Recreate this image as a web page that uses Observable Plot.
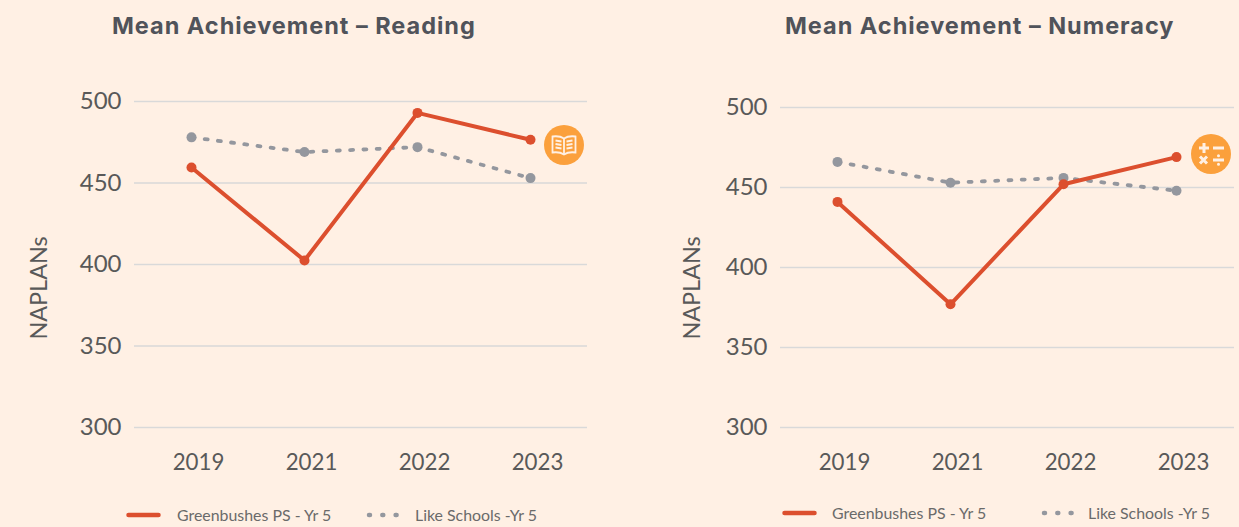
<!DOCTYPE html>
<html><head><meta charset="utf-8">
<script src="https://cdn.jsdelivr.net/npm/d3@7"></script>
<script src="https://cdn.jsdelivr.net/npm/@observablehq/plot@0.6"></script>
<style>
html,body{margin:0;padding:0;background:#FFF0E4;}
#page{position:relative;width:1239px;height:527px;overflow:hidden;background:#FFF0E4;}
.abs{position:absolute;white-space:nowrap;}
.title{font:700 23.5px Inter,"Open Sans",sans-serif;color:#50535A;letter-spacing:.98px;}
.ylab{font:23.4px Lato,sans-serif;color:#595959;transform:translate(-50%,-50%) rotate(-90deg);}
.leg{font:15.9px Lato,sans-serif;color:#6a6a6a;}
.badge{width:40px;height:40px;border-radius:50%;background:#FBA03C;transform:translate(-50%,-50%);}
</style></head><body>
<div id="page"></div>
<script>
const years = ["2019","2021","2022","2023"];
const ticks = [300,350,400,450,500];
const readingSchool = [459.5,402.5,493,476.5];
const readingLike = [478,469,472,453];
const numeracySchool = [441,377,452,469];
const numeracyLike = [466,453,456,448];
const seriesNames = ["Greenbushes PS - Yr 5","Like Schools -Yr 5"];
const RED="#DC4F2E", GREY="#94979E", GRID="#D9D9D9", TXT="#595959";
const page=document.getElementById("page");

function table(a,b){return years.map((y,i)=>({y,v:a[i],s:seriesNames[0]})).concat(years.map((y,i)=>({y,v:b[i],s:seriesNames[1]})));}

function panel(o){
  const rows=table(o.school,o.like);
  const school=rows.filter(d=>d.s===seriesNames[0]), like=rows.filter(d=>d.s===seriesNames[1]);
  const svg=Plot.plot({
    width:o.width,height:480,
    marginLeft:o.ml,marginRight:o.mr,marginTop:o.mt,marginBottom:53,
    style:{background:"transparent",overflow:"visible",fontFamily:"Lato,sans-serif"},
    x:{type:"point",padding:0,domain:years,range:o.xr,label:null},
    y:{domain:[300,500],label:null},
    marks:[
      Plot.ruleY(ticks,{stroke:GRID,strokeWidth:1.3,strokeOpacity:1}),
      Plot.axisY({ticks,tickSize:0,tickPadding:13,label:null,fontSize:24,fill:TXT}),
      Plot.axisX({tickSize:0,tickPadding:27,dx:7,label:null,fontSize:22.3,fill:TXT}),
      Plot.line(like,{x:"y",y:"v",stroke:GREY,strokeWidth:3.8,strokeDasharray:"3 10.3",strokeLinecap:"round",curve:"linear"}),
      Plot.dot(like,{x:"y",y:"v",r:5,fill:GREY}),
      Plot.line(school,{x:"y",y:"v",stroke:RED,strokeWidth:4,curve:"linear"}),
      Plot.dot(school,{x:"y",y:"v",r:5,fill:RED})
    ]
  });
  svg.style.position="absolute";svg.style.left=o.left+"px";svg.style.top="0";
  page.appendChild(svg);
}
panel({left:0,width:600,ml:134,mr:13,mt:101,xr:[190,530],school:readingSchool,like:readingLike});
panel({left:640,width:599,ml:140,mr:5,mt:107,xr:[196,537],school:numeracySchool,like:numeracyLike});

function put(cls,html,x,y,extra){
  const d=document.createElement("div");d.className="abs "+cls;d.innerHTML=html;
  d.style.left=x+"px";d.style.top=y+"px";if(extra)d.style.cssText+=extra;page.appendChild(d);return d;
}
put("title","Mean Achievement – Reading",112,11);
put("title","Mean Achievement – Numeracy",785,11);
put("ylab","NAPLANs",37.5,288);
put("ylab","NAPLANs",691,288);

function swatch(x,y,w,kind){
  const s=kind==="solid"
   ?`<line x1="2.5" x2="${w-2.5}" y1="4" y2="4" stroke="${RED}" stroke-width="4.5" stroke-linecap="round"/>`
   :`<line x1="3" x2="${w-2.5}" y1="4" y2="4" stroke="${GREY}" stroke-width="4.5" stroke-linecap="round" stroke-dasharray="1 12.3"/>`;
  put("",`<svg width="${w}" height="8" style="display:block">${s}</svg>`,x,y-4);
}
swatch(126,515,35,"solid");
put("leg",seriesNames[0],177,505);
swatch(366,515,34,"dot");
put("leg",seriesNames[1],415,505);
swatch(782,513,35,"solid");
put("leg",seriesNames[0],832,503);
swatch(1041,513,34,"dot");
put("leg",seriesNames[1],1088,503);

const book=`<svg width="40" height="40" viewBox="0 0 40 40" style="display:block"><g fill="none" stroke="#FFF0E4" stroke-width="1.8">
<path d="M20 13.5C17 11.5 12 11 8.5 11.5V27.5C12 27 17 27.5 20 29.5C23 27.5 28 27 31.5 27.5V11.5C28 11 23 11.5 20 13.5Z"/><path d="M20 13.5V29.5"/>
<path d="M11.5 15.5L17.5 16.5M11.5 19L17.5 20M11.5 22.5L17.5 23.5M28.5 15.5L22.5 16.5M28.5 19L22.5 20M28.5 22.5L22.5 23.5"/></g></svg>`;
const calc=`<svg width="40" height="40" viewBox="0 0 40 40" style="display:block"><g stroke="#FFF0E4" stroke-width="3" fill="#FFF0E4">
<path d="M8 14H18M13 9V19M22 14H33M9 22.5L16 29.5M16 22.5L9 29.5M22 26H33"/><circle cx="27.5" cy="21.8" r=".7" stroke-width="1.6"/><circle cx="27.5" cy="30.2" r=".7" stroke-width="1.6"/></g></svg>`;
put("badge",book,564,145);
put("badge",calc,1211,154);
</script>
</body></html>
